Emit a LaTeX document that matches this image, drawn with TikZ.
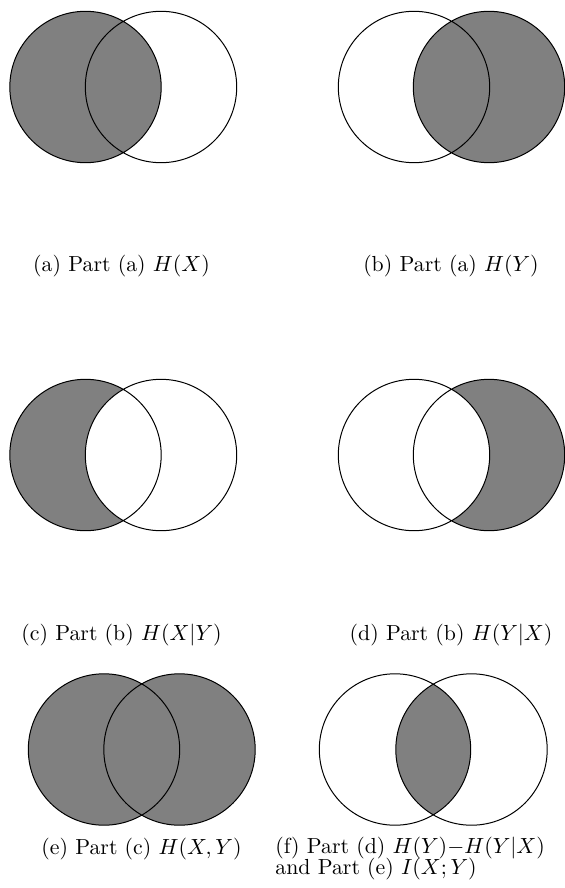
\documentclass[tikz,border=0pt]{standalone}
\begin{document}
\begin{tikzpicture}[x=0.5pt,y=-0.5pt,
  ring/.style={draw=black,line width=0.5pt},
  shadefill/.style={fill=gray},
  capt/.style={inner sep=0pt,font=\fontsize{10.9}{13}\selectfont}]
\useasboundingbox (0,0) rectangle (564,888);
\def\R{75.7}
% (a)
\fill[shadefill] (85.5,87) circle (\R);
\draw[ring] (85.5,87) circle (\R) (161,87) circle (\R);
\node[capt] (capa) at (121.5,266) {(a) Part (a) $H(X)$};
% (b)
\fill[shadefill] (489,87) circle (\R);
\draw[ring] (414,87) circle (\R) (489,87) circle (\R);
\node[capt] (capb) at (451,266) {(b) Part (a) $H(Y)$};
% (c)
\fill[shadefill] (85.5,455) circle (\R);
\begin{scope}
  \clip (85.5,455) circle (\R);
  \fill[white] (161,455) circle (\R);
\end{scope}
\draw[ring] (85.5,455) circle (\R) (161,455) circle (\R);
\node[capt] (capc) at (121.5,635) {(c) Part (b) $H(X|Y)$};
% (d)
\fill[shadefill] (489,455) circle (\R);
\begin{scope}
  \clip (489,455) circle (\R);
  \fill[white] (414,455) circle (\R);
\end{scope}
\draw[ring] (414,455) circle (\R) (489,455) circle (\R);
\node[capt] (capd) at (451,635) {(d) Part (b) $H(Y|X)$};
% (e)
\fill[shadefill] (104,749.5) circle (\R) (179.5,749.5) circle (\R);
\draw[ring] (104,749.5) circle (\R) (179.5,749.5) circle (\R);
\node[capt] (cape) at (141.5,849) {(e) Part (c) $H(X,Y)$};
% (f)
\begin{scope}
  \clip (395,749.5) circle (\R);
  \fill[shadefill] (471.5,749.5) circle (\R);
\end{scope}
\draw[ring] (395,749.5) circle (\R) (471.5,749.5) circle (\R);
\node[capt,anchor=west] (capf) at (275,848.5) {(f) Part (d) $H(Y){-}H(Y|X)$};
\node[capt,anchor=west] (capf2) at (275,869.5) {and Part (e) $I(X;Y)$};
\end{tikzpicture}
\end{document}
